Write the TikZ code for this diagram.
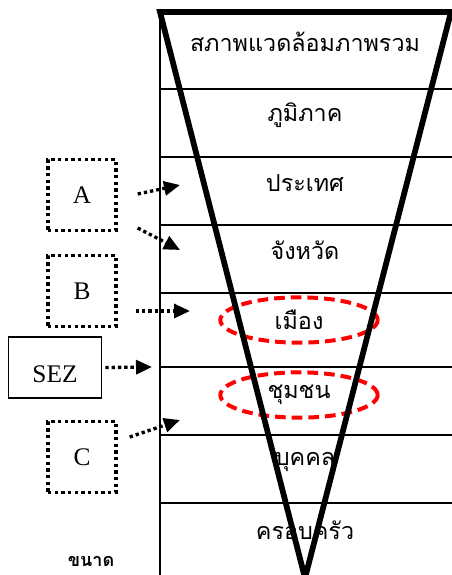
\documentclass[tikz,border=0pt]{standalone}
\usepackage{fontspec}
\setmainfont{Liberation Serif}
\newfontfamily\thaifont[Script=Thai]{Loma}
\usetikzlibrary{arrows.meta,shapes.geometric}

\tikzset{
  lvl/.style={font=\thaifont\fontsize{17.5}{20}\selectfont, inner sep=0pt},
  ring/.style={ellipse, draw=red, line width=3pt, dash pattern=on 8pt off 4.5pt,
    minimum width=118pt, minimum height=34pt},
  dotbox/.style={draw, line width=2.6pt, dash pattern=on 2.6pt off 2.4pt,
    minimum width=51pt, minimum height=53pt, font=\fontsize{19}{22}\selectfont},
  ptr/.style={line width=2.5pt, dash pattern=on 2.5pt off 2.2pt,
    -{Triangle[length=12pt,width=10.5pt]}},
}

\begin{document}
\begin{tikzpicture}[x=0.75pt,y=-0.75pt]
\useasboundingbox (0,0) rectangle (452,575);

% table of levels
\draw[line width=1.6pt] (160,12) -- (160,580);
\foreach \y in {89,157,225,293,367,435,503}
  \draw[line width=1.6pt] (160,\y) -- (452,\y);

\node[lvl] (env) at (305,42) {สภาพแวดล้อมภาพรวม};
\node[lvl] (region) at (305,115) {ภูมิภาค};
\node[lvl] (country) at (305,183) {ประเทศ};
\node[lvl] (province) at (305,250) {จังหวัด};
\node[lvl, ring] (city) at (299,320) {เมือง};
\node[lvl, ring] (community) at (299,395) {ชุมชน};
\node[lvl] (person) at (305,462) {บุคคล};
\node[lvl] (family) at (305,530) {ครอบครัว};

% funnel
\draw[line width=4.3pt] (160,12) -- (451,12) -- (305,578) -- cycle;

% actors on the left
\node[dotbox] (A) at (82,195) {A};
\node[dotbox] (B) at (82,291) {B};
\node[draw, line width=1.1pt, minimum width=70pt, minimum height=46pt] (sez) at (55,367.5) {};
\node[font=\fontsize{19}{22}\selectfont] (sezText) at (55,374) {SEZ};
\node[dotbox] (C) at (82,457) {C};

\coordinate (aTop) at (180,185);
\coordinate (aLow) at (180,250);
\coordinate (bTip) at (190,311);
\coordinate (sezTip) at (152,367);
\coordinate (cTip) at (180,420);

\draw[ptr] ([shift={(20,-1)}]A.east) -- (aTop);
\draw[ptr] ([shift={(20,33)}]A.east) -- (aLow);
\draw[ptr] ([shift={(18,20)}]B.east) -- (bTip);
\draw[ptr] ([shift={(3,0)}]sez.east) -- (sezTip);
\draw[ptr] ([shift={(12,-20)}]C.east) -- (cTip);

\node[font=\thaifont\bfseries\fontsize{13.5}{15}\selectfont] (size) at (91,561) {ขนาด};
\end{tikzpicture}
\end{document}
